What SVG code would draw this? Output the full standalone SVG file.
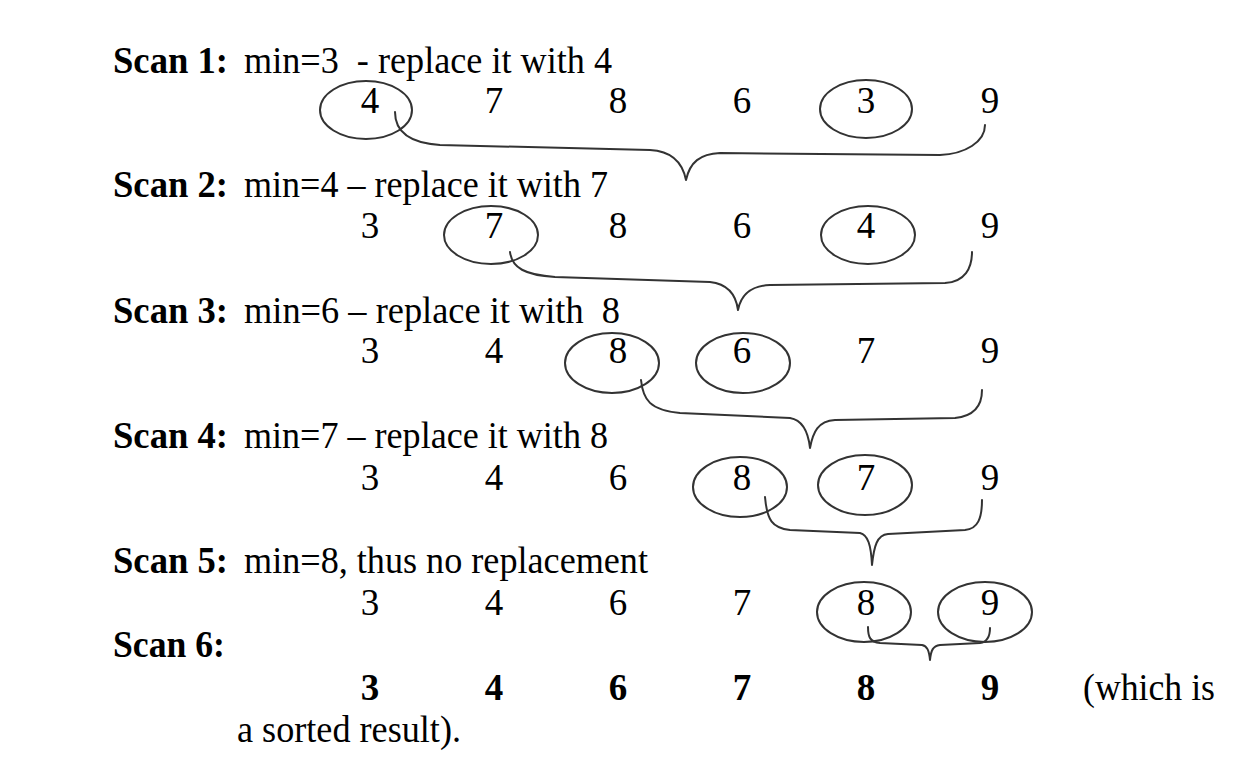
<svg xmlns="http://www.w3.org/2000/svg" width="1238" height="775" viewBox="0 0 1238 775">
<style>
text{font-family:"Liberation Serif","Times New Roman",serif;font-size:37px;fill:#000}
.b{font-weight:bold}
.n{text-anchor:middle}
ellipse{fill:none;stroke:#333;stroke-width:2}
.br{fill:none;stroke:#333;stroke-width:2;stroke-linecap:round;stroke-linejoin:round}
</style>
<rect width="1238" height="775" fill="#fff"/>
<g id="scan1">
<text x="113" y="73" class="b" textLength="115" lengthAdjust="spacingAndGlyphs">Scan 1:</text>
<text x="244" y="73" textLength="368" lengthAdjust="spacingAndGlyphs" xml:space="preserve">min=3  - replace it with 4</text>
<g class="n"><text x="370" y="113">4</text><text x="494" y="113">7</text><text x="618" y="113">8</text><text x="742" y="113">6</text><text x="866" y="113">3</text><text x="990" y="113">9</text></g>
<ellipse cx="366" cy="110" rx="46" ry="29"/><ellipse cx="866" cy="109" rx="46" ry="29"/>
</g>
<g id="scan2">
<text x="113" y="197" class="b" textLength="115" lengthAdjust="spacingAndGlyphs">Scan 2:</text>
<text x="244" y="197" textLength="364" lengthAdjust="spacingAndGlyphs">min=4 – replace it with 7</text>
<g class="n"><text x="370" y="238">3</text><text x="494" y="238">7</text><text x="618" y="238">8</text><text x="742" y="238">6</text><text x="866" y="238">4</text><text x="990" y="238">9</text></g>
<ellipse cx="491" cy="235" rx="47" ry="29"/><ellipse cx="868" cy="235" rx="47" ry="29"/>
</g>
<g id="scan3">
<text x="113" y="323" class="b" textLength="115" lengthAdjust="spacingAndGlyphs">Scan 3:</text>
<text x="244" y="323" textLength="376" lengthAdjust="spacingAndGlyphs" xml:space="preserve">min=6 – replace it with  8</text>
<g class="n"><text x="370" y="363">3</text><text x="494" y="363">4</text><text x="618" y="363">8</text><text x="742" y="363">6</text><text x="866" y="363">7</text><text x="990" y="363">9</text></g>
<ellipse cx="612" cy="363" rx="47" ry="30"/><ellipse cx="743" cy="363" rx="47" ry="30"/>
</g>
<g id="scan4">
<text x="113" y="448" class="b" textLength="115" lengthAdjust="spacingAndGlyphs">Scan 4:</text>
<text x="244" y="448" textLength="364" lengthAdjust="spacingAndGlyphs">min=7 – replace it with 8</text>
<g class="n"><text x="370" y="490">3</text><text x="494" y="490">4</text><text x="618" y="490">6</text><text x="742" y="490">8</text><text x="866" y="490">7</text><text x="990" y="490">9</text></g>
<ellipse cx="740" cy="487" rx="47" ry="30"/><ellipse cx="865" cy="485" rx="47" ry="30"/>
</g>
<g id="scan5">
<text x="113" y="573" class="b" textLength="115" lengthAdjust="spacingAndGlyphs">Scan 5:</text>
<text x="244" y="573" textLength="404" lengthAdjust="spacingAndGlyphs">min=8, thus no replacement</text>
<g class="n"><text x="370" y="615">3</text><text x="494" y="615">4</text><text x="618" y="615">6</text><text x="742" y="615">7</text><text x="866" y="615">8</text><text x="990" y="615">9</text></g>
<ellipse cx="864" cy="612" rx="47" ry="30"/><ellipse cx="985" cy="612" rx="47" ry="30"/>
</g>
<g id="scan6">
<text x="113" y="657" class="b" textLength="112" lengthAdjust="spacingAndGlyphs">Scan 6:</text>
<g class="n b"><text x="370" y="700">3</text><text x="494" y="700">4</text><text x="618" y="700">6</text><text x="742" y="700">7</text><text x="866" y="700">8</text><text x="990" y="700">9</text></g>
<text x="1083" y="700" textLength="132" lengthAdjust="spacingAndGlyphs">(which is</text>
<text x="237" y="742" textLength="224" lengthAdjust="spacingAndGlyphs">a sorted result).</text>
</g>
<g id="connectors">
<path class="br" d="M395,112 C395,132 410,143 440,145 L650,150 C670,151 682,160 686,180 C690,162 700,154 720,153 L940,155 C965,154 985,142 985,125"/>
<path class="br" d="M510,252 C512,268 525,275 555,277 L710,282 C728,284 736,295 738,310 C741,295 750,286 770,285 L945,283 C965,282 972,268 972,252"/>
<path class="br" d="M641,380 C643,400 650,410 680,413 L790,418 C802,420 808,430 810,448 C813,432 818,421 835,420 L955,418 C975,416 982,405 982,390"/>
<path class="br" d="M765,497 C767,520 772,528 790,530 L860,533 C868,535 871,545 872,565 C874,546 877,535 888,534 L965,530 C978,529 982,518 982,500"/>
<path class="br" d="M868,627 C868,637 870,642 880,643 L922,645 C927,646 929,650 930,660 C931,650 933,646 940,645 L980,643 C987,642 990,637 990,628"/>
</g>
</svg>
